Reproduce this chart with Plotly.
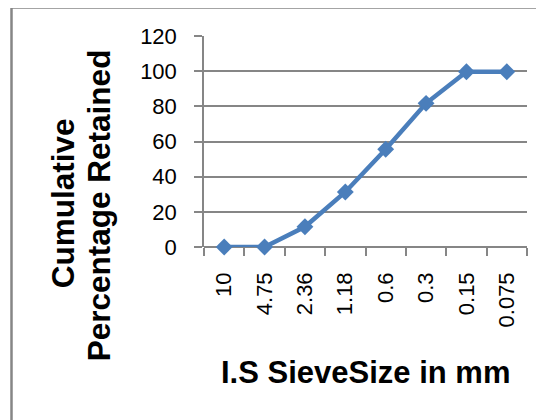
import plotly.graph_objects as go

sieve_sizes = ["10", "4.75", "2.36", "1.18", "0.6", "0.3", "0.15", "0.075"]
cum_retained = [0, 0, 11.5, 31.3, 55.6, 81.7, 99.7, 99.7]
y_ticks = [0, 20, 40, 60, 80, 100, 120]

blue = "#4A7EBB"
grey = "#868686"
FONT = "Liberation Sans, Arial, sans-serif"

# page offset (browser body margin)
OFF = 8
W, H = 544 - OFF, 420 - OFF
L, R, T, B = 204 - OFF, 527 - OFF, 36 - OFF, 246.7 - OFF
pw, ph = R - L, B - T


def px(x):
    return (x - OFF - L) / pw


def py(y):
    return (B - (y - OFF)) / ph


fig = go.Figure()
fig.add_trace(go.Scatter(
    x=sieve_sizes, y=cum_retained, mode="lines+markers",
    line=dict(color=blue, width=4.5),
    marker=dict(symbol="diamond", size=13, color=blue),
    cliponaxis=False, showlegend=False,
))

fig.update_layout(
    width=W, height=H,
    margin=dict(l=L, r=W - R, t=T, b=H - B, autoexpand=False),
    paper_bgcolor="white", plot_bgcolor="white",
    font=dict(family=FONT, color="black"),
    xaxis=dict(
        type="category", range=[-0.5, 7.5], tickson="boundaries",
        ticks="outside", ticklen=8, tickcolor=grey, tickwidth=1.5,
        showgrid=False, showline=False, zeroline=False,
        tickangle=-90, tickfont=dict(size=22),
        ticklabelstandoff=20,
        automargin=False,
    ),
    yaxis=dict(
        range=[0, 120], tickvals=y_ticks, ticks="outside", ticklen=8,
        tickcolor=grey, tickwidth=1.5,
        showgrid=True, gridcolor=grey, gridwidth=1.5,
        showline=True, linecolor=grey, linewidth=1.5,
        zeroline=True, zerolinecolor=grey, zerolinewidth=1.5,
        tickfont=dict(size=22), ticklabelstandoff=13,
        automargin=False,
    ),
)

# axis titles
fig.add_annotation(text="<b>I.S SieveSize in mm</b>", xref="paper", yref="paper",
                   x=px(365), y=py(372), xanchor="center", yanchor="middle",
                   showarrow=False, font=dict(size=31, family=FONT))
fig.add_annotation(text="<b>Cumulative</b>", xref="paper", yref="paper",
                   x=px(63), y=py(203), xanchor="center", yanchor="middle",
                   textangle=-90, showarrow=False, font=dict(size=31.5, family=FONT))
fig.add_annotation(text="<b>Percentage Retained</b>", xref="paper", yref="paper",
                   x=px(99), y=py(205), xanchor="center", yanchor="middle",
                   textangle=-90, showarrow=False, font=dict(size=31.5, family=FONT))

# outer chart border (extends past right/bottom edges)
fig.add_shape(
    type="rect", xref="paper", yref="paper",
    x0=px(11.5), x1=px(W + 40),
    y0=py(H + 40), y1=py(7.5),
    line=dict(color=grey, width=2.5), layer="below",
)

fig.write_html("out.html")
